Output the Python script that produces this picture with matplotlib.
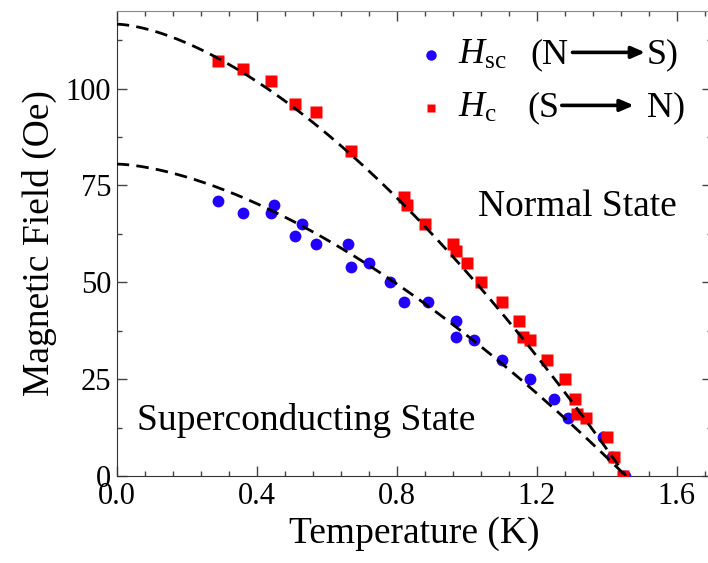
import numpy as np
import matplotlib
matplotlib.use("Agg")
import matplotlib.pyplot as plt

# Measured transition fields
T_sc = [0.29, 0.36, 0.44, 0.45, 0.51, 0.53, 0.57, 0.66, 0.67, 0.72, 0.78, 0.82,
        0.89, 0.97, 0.97, 1.02, 1.10, 1.18, 1.25, 1.29, 1.39, 1.415, 1.453]
H_sc = [71, 68, 68, 70, 62, 65, 60, 60, 54, 55, 50, 45,
        45, 40, 36, 35, 30, 25, 20, 15, 10, 5, 0]

T_c = [0.29, 0.36, 0.44, 0.51, 0.57, 0.67, 0.82, 0.83, 0.88, 0.96, 0.97, 1.00, 1.04,
       1.10, 1.15, 1.16, 1.18, 1.23, 1.28, 1.31, 1.315, 1.34, 1.40, 1.42, 1.447]
H_c = [107, 105, 102, 96, 94, 84, 72, 70, 65, 60, 58, 55, 50,
       45, 40, 36, 35, 30, 25, 20, 16, 15, 10, 5, 0]

# Empirical fit H(T) = H0 * (1 - (T/Tc)^n)
fit_Tc = 1.455
fit_n = 1.6
fit_H0_c = 116.6
fit_H0_sc = 80.5

x_ticks = [0.0, 0.4, 0.8, 1.2, 1.6]
y_ticks = [0, 25, 50, 75, 100]

plt.rcParams["font.family"] = ["Liberation Serif", "DejaVu Serif"]
plt.rcParams["mathtext.fontset"] = "custom"
plt.rcParams["mathtext.rm"] = "Liberation Serif"
plt.rcParams["mathtext.it"] = "Liberation Serif:italic"

fig = plt.figure(figsize=(7.08, 5.63), dpi=100)
W, Hh = 708, 563
ax = fig.add_axes([116.7 / W, 87 / Hh, 595 / W, 465 / Hh])

blue = "#2200ff"
red = "#ff0000"

ax.plot(T_sc, H_sc, "o", color=blue, ms=8.5, mec="none", zorder=3)
ax.plot(T_c, H_c, "s", color=red, ms=8, mec="none", zorder=4)

tt = np.linspace(0, fit_Tc, 300)
for H0 in (fit_H0_c, fit_H0_sc):
    ax.plot(tt, H0 * (1 - (tt / fit_Tc) ** fit_n), color="black", lw=2.0,
            dashes=(4.5, 2.6), zorder=5)

ax.set_xlim(0, 1.7)
ax.set_ylim(0, 120)
ax.set_xticks(x_ticks)
ax.set_xticklabels([f"{v:.1f}" for v in x_ticks])
ax.set_yticks(y_ticks)
ax.set_xticks(np.arange(0, 1.7001, 0.08), minor=True)
ax.set_yticks(np.arange(0, 120.01, 12.5), minor=True)

ax.tick_params(which="both", direction="in", top=True, right=True,
               colors="#444444", labelcolor="black", labelsize=22, width=1.0)
ax.tick_params(which="major", length=7.2, pad=4)
ax.tick_params(which="minor", length=3.6)
for side in ("left", "bottom"):
    ax.spines[side].set_color("#333333")
for side in ("top", "right"):
    ax.spines[side].set_color("#888888")

ax.set_xlabel("Temperature (K)", fontsize=27, labelpad=4)
ax.set_ylabel("Magnetic Field (Oe)", fontsize=27, labelpad=6)

ax.text(1.032, 69.6, "Normal State", fontsize=27, ha="left", va="center")
ax.text(0.058, 14.4, "Superconducting State", fontsize=27, ha="left", va="center")

# Legend
rows = [
    (0.905, "o", blue, 7.5, r"$H_{\mathrm{sc}}$", "(N", "S)", 0.6945, 0.766, 0.888, 0.891),
    (0.791, "s", red, 6.0, r"$H_{\mathrm{c}}$", "(S", "N)", 0.691, 0.748, 0.869, 0.8917),
]
for y, mk, col, ms, name, left, right, xl, xa0, xa1, xr in rows:
    ax.plot([0.529], [y], mk, color=col, ms=ms, mec="none",
            transform=ax.transAxes, clip_on=False)
    ax.text(0.574, y, name, fontsize=26, ha="left", va="center",
            transform=ax.transAxes)
    ax.text(xl, y, left, fontsize=26, ha="left", va="center",
            transform=ax.transAxes)
    ax.annotate("", xy=(xa1, y + 0.006), xytext=(xa0, y + 0.006),
                xycoords="axes fraction",
                arrowprops=dict(arrowstyle="-|>,head_length=0.8,head_width=0.35",
                                lw=2.6, color="black", shrinkA=0, shrinkB=0))
    ax.text(xr, y, right, fontsize=26, ha="left", va="center",
            transform=ax.transAxes)

fig.savefig("out.png", dpi=100)
